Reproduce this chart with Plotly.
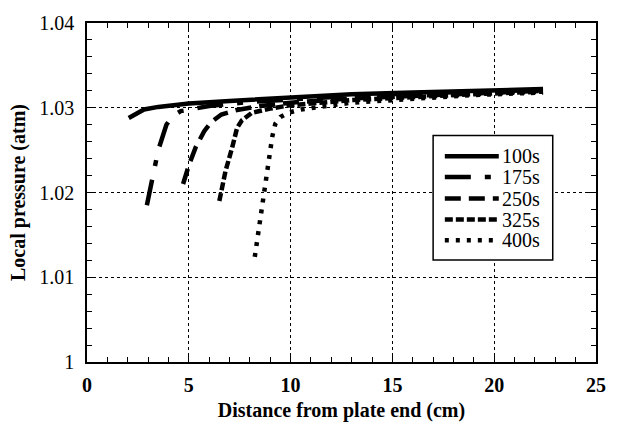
import plotly.graph_objects as go

# Pressure profiles along the plate at several times
x_100 = [2.05, 2.4, 2.8, 3.5, 5.0, 7.0, 10.0, 13.0, 16.0, 19.0, 22.4]
p_100 = [1.0288, 1.0293, 1.0298, 1.0301, 1.0305, 1.0308, 1.0312, 1.0316, 1.0318, 1.0320, 1.0322]

x_175 = [2.94, 3.2, 3.5, 3.9, 4.2, 4.6, 5.0, 6.0, 8.0, 10.0, 13.0, 16.0, 19.0, 22.4]
p_175 = [1.0185, 1.0215, 1.0250, 1.0280, 1.0290, 1.0296, 1.0298, 1.0302, 1.0307, 1.0310,
         1.0314, 1.0317, 1.0319, 1.0321]

x_250 = [4.72, 5.0, 5.35, 5.75, 6.1, 6.6, 7.3, 8.5, 10.0, 13.0, 16.0, 19.0, 22.4]
p_250 = [1.0210, 1.0232, 1.0254, 1.0272, 1.0283, 1.0292, 1.0297, 1.0302, 1.0306, 1.0311,
         1.0314, 1.0317, 1.0320]

x_325 = [6.5, 6.8, 7.13, 7.37, 7.6, 8.1, 9.0, 10.0, 13.0, 16.0, 19.0, 22.4]
p_325 = [1.0190, 1.0225, 1.0253, 1.0276, 1.0285, 1.0294, 1.0299, 1.0303, 1.0309, 1.0313,
         1.0316, 1.0319]

x_400 = [8.24, 8.57, 8.86, 9.10, 9.25, 9.5, 9.87, 10.5, 13.0, 16.0, 19.0, 22.4]
p_400 = [1.0124, 1.0182, 1.0231, 1.0266, 1.0281, 1.0289, 1.0294, 1.0298, 1.0306, 1.0311,
         1.0315, 1.0318]

times = ["100s", "175s", "250s", "325s", "400s"]
xs_all = [x_100, x_175, x_250, x_325, x_400]
ps_all = [p_100, p_175, p_250, p_325, p_400]
dashes = ["solid", "26px,14px,6px,14px", "16px,8px", "8px,3px", "4px,7px"]

serif = "Times New Roman, Liberation Serif, DejaVu Serif, serif"
LW = 4.5

fig = go.Figure()
for name, xs, ps, dash in zip(times, xs_all, ps_all, dashes):
    fig.add_trace(go.Scatter(
        x=xs, y=ps, name=name, mode="lines", showlegend=False,
        line=dict(color="black", width=LW, dash=dash),
    ))

# Boxed key drawn in paper coordinates
box_x0, box_x1, box_y0, box_y1 = 0.680, 0.915, 0.301, 0.668
key_x0, key_x1, key_text_x = 0.703, 0.809, 0.814
key_rows = [0.607, 0.546, 0.482, 0.420, 0.359]

shapes = [dict(type="rect", xref="paper", yref="paper",
               x0=box_x0, x1=box_x1, y0=box_y0, y1=box_y1,
               line=dict(color="black", width=1.5), fillcolor="white", layer="above")]
annotations = []
for name, dash, yrow in zip(times, dashes, key_rows):
    shapes.append(dict(type="line", xref="paper", yref="paper",
                       x0=key_x0, x1=key_x1, y0=yrow, y1=yrow,
                       line=dict(color="black", width=LW, dash=dash), layer="above"))
    annotations.append(dict(xref="paper", yref="paper", x=key_text_x, y=yrow,
                            xanchor="left", yanchor="middle", showarrow=False,
                            borderpad=0,
                            text=name, font=dict(family=serif, size=20, color="black")))

fig.update_layout(
    width=618, height=434,
    margin=dict(l=87, r=12, t=16, b=72),
    paper_bgcolor="white", plot_bgcolor="white",
    font=dict(family=serif, color="black", size=19),
    showlegend=False,
    shapes=shapes,
    annotations=annotations,
)

fig.update_xaxes(
    range=[0, 25], dtick=5, tick0=0,
    showline=True, linecolor="black", linewidth=1.5, mirror="ticks",
    ticks="inside", ticklen=8, tickwidth=1, tickcolor="black",
    showgrid=True, gridcolor="black", griddash="dot", gridwidth=1,
    zeroline=False,
    tickfont=dict(family=serif, size=20, weight="bold"),
    ticklabelstandoff=4,
    minor=dict(dtick=1, ticks="inside", ticklen=5, tickwidth=1, tickcolor="black", showgrid=False),
    title=dict(text="<b>Distance from plate end (cm)</b>", font=dict(family=serif, size=20), standoff=8),
)

fig.update_yaxes(
    range=[1.0, 1.04], dtick=0.01, tick0=1.0,
    showline=True, linecolor="black", linewidth=1.5, mirror="ticks",
    ticks="inside", ticklen=8, tickwidth=1, tickcolor="black",
    showgrid=True, gridcolor="black", griddash="dot", gridwidth=1,
    zeroline=False,
    tickfont=dict(family=serif, size=20),
    ticklabelstandoff=7,
    minor=dict(dtick=0.002, ticks="inside", ticklen=5, tickwidth=1, tickcolor="black", showgrid=False),
    title=dict(text="<b>Local pressure (atm)</b>", font=dict(family=serif, size=20), standoff=8),
)

fig.write_html("out.html")
